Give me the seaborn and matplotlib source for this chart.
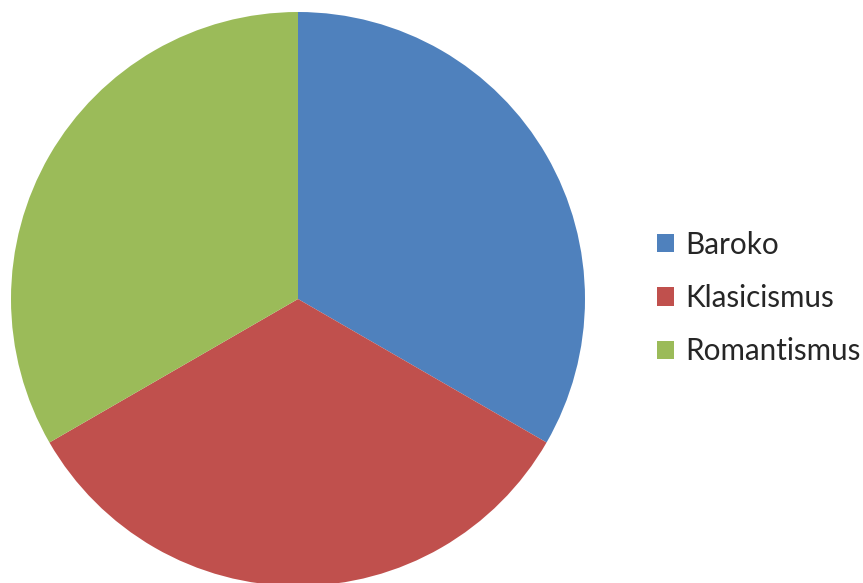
import matplotlib
matplotlib.use("Agg")
import matplotlib.pyplot as plt
import seaborn as sns
from matplotlib.patches import Patch

categories = ["Baroko", "Klasicismus", "Romantismus"]
values = [1, 1, 1]
colors = ["#4F81BD", "#C0504D", "#9BBB59"]

sns.set_theme(style="white")
plt.rcParams['font.family'] = ['Lato', 'DejaVu Sans']

W, H = 863, 583
fig = plt.figure(figsize=(W / 100, H / 100), dpi=100)
cx, cy, r = 298, 299, 287
ax = fig.add_axes([(cx - r) / W, (H - cy - r) / H, 2 * r / W, 2 * r / H])
ax.pie(values, colors=colors, startangle=90, counterclock=False,
       wedgeprops=dict(linewidth=0), radius=1)
ax.set_xlim(-1, 1)
ax.set_ylim(-1, 1)
ax.set_aspect("equal")
ax.axis("off")

fs = 21.3
handles = [Patch(facecolor=c, edgecolor="none") for c in colors]
fig.legend(handles, categories, loc="center left",
           bbox_to_anchor=(657 / W, (H - 298) / H), frameon=False,
           fontsize=fs, handlelength=0.57, handleheight=0.57,
           handletextpad=0.37, labelspacing=0.86, borderpad=0, borderaxespad=0)

fig.savefig("out.png", dpi=100)
